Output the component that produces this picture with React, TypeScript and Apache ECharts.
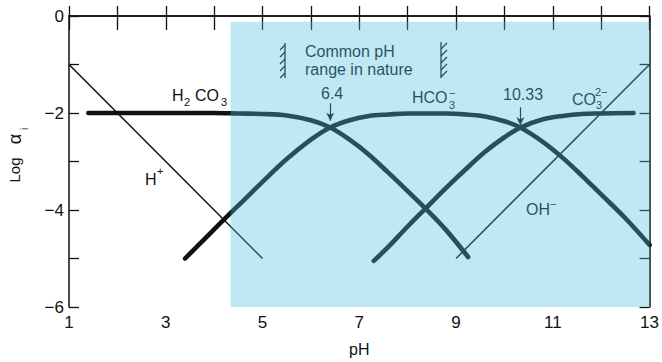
import React, { useEffect, useRef } from "react";
import * as echarts from "echarts";

// ---- data ----
const pHH2CO3 = [1.4, 2, 3, 4, 4.5, 5, 5.5, 6, 6.4, 6.8, 7.2, 7.6, 8, 8.4, 8.8, 9.25];
const logH2CO3 = [-2.0, -2.0, -2.0, -2.0, -2.01, -2.02, -2.05, -2.15, -2.3, -2.55, -2.86, -3.23, -3.61, -4.0, -4.42, -4.97];

const pHHCO3 = [3.4, 3.8, 4.2, 4.6, 5, 5.5, 6, 6.4, 6.8, 7.2, 7.6, 8, 8.4, 8.8, 9.2, 9.6, 10, 10.33, 10.8, 11.2, 11.6, 12, 12.5, 13];
const logHCO3 = [-5.0, -4.6, -4.2, -3.81, -3.42, -2.95, -2.55, -2.3, -2.15, -2.06, -2.03, -2.01, -2.01, -2.01, -2.03, -2.07, -2.17, -2.3, -2.6, -2.92, -3.29, -3.68, -4.17, -4.72];

const pHCO3 = [7.3, 7.6, 8, 8.4, 8.8, 9.2, 9.6, 10, 10.33, 10.8, 11.2, 11.6, 12, 12.67];
const logCO3 = [-5.05, -4.76, -4.34, -3.94, -3.54, -3.16, -2.8, -2.5, -2.3, -2.13, -2.06, -2.02, -2.01, -2.0];

const pHH = [1, 5];
const logH = [-1, -5];
const pHOH = [9, 13];
const logOH = [-5, -1];

const pK = [6.4, 10.33];
const arrowTop = [-1.8, -1.88];
const arrowBottom = [-2.16, -2.25];

const natureRangeX = [4.34, 13];
const natureRangeY = [-0.12, -6];

const xTickLabels = ["1", "3", "5", "7", "9", "11", "13"];
const yTickLabels = ["0", "−2", "−4", "−6"];

const FONT = '"Liberation Sans", Arial, Helvetica, sans-serif';
const INK = "#111";

const zip = (xs: number[], ys: number[]) => xs.map((x, i) => [x, ys[i]]);

function txt(text: string, x: number, y: number, size = 16, extra: any = {}) {
  return {
    type: "text",
    x,
    y,
    z: 3,
    silent: true,
    style: {
      text,
      fill: INK,
      fontSize: size,
      fontFamily: FONT,
      align: "left",
      verticalAlign: "middle",
      ...extra,
    },
  };
}

function seg(x1: number, y1: number, x2: number, y2: number) {
  return {
    type: "line",
    z: 3,
    silent: true,
    shape: { x1, y1, x2, y2 },
    style: { stroke: INK, lineWidth: 1.3 },
  };
}

export default function App() {
  const ref = useRef<HTMLDivElement>(null);

  useEffect(() => {
    const chart = echarts.init(ref.current!, null, { renderer: "svg" });

    const thick = { width: 4.6, color: INK, cap: "round", join: "round" };
    const thin = { width: 1.5, color: INK };

    const hatches: any[] = [];
    // left hatch symbol
    hatches.push(seg(285, 43, 285, 78));
    [45, 52, 59, 66, 73].forEach((y) => hatches.push(seg(285, y, 280, y + 5)));
    // right hatch symbol
    hatches.push(seg(441, 42, 441, 78));
    [49, 56, 63, 70, 77].forEach((y) => hatches.push(seg(441, y, 447, y - 6)));

    const curve = (data: number[][]) => ({
      type: "line",
      data,
      symbol: "none",
      smooth: 0.35,
      lineStyle: thick,
      z: 2,
      silent: true,
    });

    const option: any = {
      animation: false,
      backgroundColor: "#fff",
      grid: { left: 69, right: 7, top: 16, bottom: 54, containLabel: false },
      xAxis: [
        {
          type: "value",
          min: 1,
          max: 13,
          interval: 1,
          position: "bottom",
          name: "pH",
          nameLocation: "middle",
          nameGap: 34,
          nameTextStyle: { fontSize: 16, fontFamily: FONT, color: INK },
          axisLine: { show: true, lineStyle: { color: INK, width: 1.5 } },
          axisTick: { show: true, inside: true, length: 10, lineStyle: { color: INK, width: 1.3 } },
          axisLabel: {
            fontSize: 17,
            fontFamily: FONT,
            color: INK,
            margin: 7,
            formatter: (v: number) => (xTickLabels.includes(String(v)) ? String(v) : ""),
          },
          splitLine: { show: false },
        },
        {
          type: "value",
          min: 1,
          max: 13,
          interval: 1,
          position: "top",
          axisLine: { show: true, lineStyle: { color: INK, width: 1.5 } },
          axisTick: { show: true, inside: true, length: 14, lineStyle: { color: INK, width: 1.3 } },
          axisLabel: { show: false },
          splitLine: { show: false },
        },
      ],
      yAxis: [
        {
          type: "value",
          min: -6,
          max: 0,
          interval: 1,
          position: "left",
          axisLine: { show: true, lineStyle: { color: INK, width: 1.5 } },
          axisTick: { show: true, inside: true, length: 10, lineStyle: { color: INK, width: 1.3 } },
          axisLabel: {
            fontSize: 17,
            fontFamily: FONT,
            color: INK,
            margin: 5,
            formatter: (v: number) => {
              const s = v === 0 ? "0" : "−" + Math.abs(v);
              return yTickLabels.includes(s) ? s : "";
            },
          },
          splitLine: { show: false },
        },
        {
          type: "value",
          min: -6,
          max: 0,
          interval: 1,
          position: "right",
          axisLine: { show: true, lineStyle: { color: INK, width: 1.5 } },
          axisTick: { show: true, inside: true, length: 10, lineStyle: { color: INK, width: 1.3 } },
          axisLabel: { show: false },
          splitLine: { show: false },
        },
      ],
      series: [
        {
          name: "H2CO3",
          ...curve(zip(pHH2CO3, logH2CO3)),
          markLine: {
            silent: true,
            symbol: ["none", "arrow"],
            symbolSize: [6, 8],
            label: { show: false },
            lineStyle: { color: INK, width: 1.2, type: "solid" },
            data: pK.map((p, i) => [{ coord: [p, arrowTop[i]] }, { coord: [p, arrowBottom[i]] }]),
          },
        },
        { name: "HCO3", ...curve(zip(pHHCO3, logHCO3)) },
        { name: "CO3", ...curve(zip(pHCO3, logCO3)) },
        {
          name: "H+",
          type: "line",
          data: zip(pHH, logH),
          symbol: "none",
          lineStyle: thin,
          z: 2,
          silent: true,
        },
        {
          name: "OH-",
          type: "line",
          data: zip(pHOH, logOH),
          symbol: "none",
          lineStyle: thin,
          z: 2,
          silent: true,
        },
        {
          name: "nature",
          type: "custom",
          z: 5,
          silent: true,
          clip: false,
          encode: { x: [0, 2], y: [1, 3] },
          data: [[natureRangeX[0], natureRangeY[0], natureRangeX[1], natureRangeY[1]]],
          renderItem: (params: any, api: any) => {
            const p1 = api.coord([api.value(0), api.value(1)]);
            const p2 = api.coord([api.value(2), api.value(3)]);
            return {
              type: "rect",
              shape: { x: p1[0], y: p1[1], width: p2[0] - p1[0], height: p2[1] - p1[1] },
              style: { fill: "rgba(80,190,225,0.36)" },
            };
          },
        },
      ],
      graphic: [
        // y-axis title
        {
          type: "text",
          x: 14,
          y: 170,
          rotation: Math.PI / 2,
          z: 3,
          silent: true,
          style: { text: "Log", fontSize: 15, fontFamily: FONT, fill: INK, align: "center", verticalAlign: "middle" },
        },
        {
          type: "text",
          x: 15,
          y: 139,
          rotation: Math.PI / 2,
          z: 3,
          silent: true,
          style: { text: "α", fontSize: 18, fontFamily: FONT, fill: INK, align: "center", verticalAlign: "middle" },
        },
        {
          type: "text",
          x: 24,
          y: 129,
          rotation: Math.PI / 2,
          z: 3,
          silent: true,
          style: { text: "i", fontSize: 10, fontFamily: FONT, fill: INK, align: "center", verticalAlign: "middle" },
        },
        // species labels
        txt("H", 172, 95),
        txt("2", 184, 102, 11),
        txt("CO", 195, 95),
        txt("3", 221, 102, 11),
        txt("H", 145, 179),
        txt("+", 157, 171, 11),
        txt("HCO", 412, 97.5),
        txt("3", 449, 104.5, 11),
        txt("−", 449, 93, 11),
        txt("CO", 572, 99),
        txt("2−", 595, 92, 11),
        txt("3", 596, 105, 11),
        txt("OH", 526, 209),
        txt("−", 550, 204, 11),
        txt("6.4", 321, 93),
        txt("10.33", 503, 94),
        txt("Common pH", 305, 51),
        txt("range in nature", 305, 69.5),
        ...hatches,
      ],
    };

    chart.setOption(option);
    return () => chart.dispose();
  }, []);

  return (
    <div
      ref={ref}
      style={{ position: "fixed", left: 0, top: 0, width: 662, height: 362, background: "#fff" }}
    />
  );
}
